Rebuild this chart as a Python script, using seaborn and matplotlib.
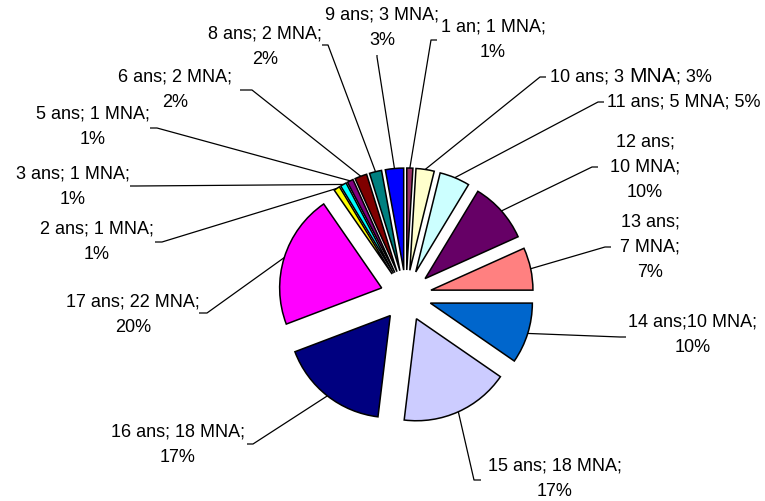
import matplotlib
matplotlib.use("Agg")
import matplotlib.pyplot as plt
import seaborn as sns
import numpy as np

# ---------------- data ----------------
ages = ["1 an", "10 ans", "11 ans", "12 ans", "13 ans", "14 ans", "15 ans",
        "16 ans", "17 ans", "2 ans", "3 ans", "5 ans", "6 ans", "8 ans", "9 ans"]
mna = [1, 3, 5, 10, 7, 10, 18, 18, 22, 1, 1, 1, 2, 2, 3]
pcts = ["1%", "3%", "5%", "10%", "7%", "10%", "17%", "17%", "20%",
        "1%", "1%", "1%", "2%", "2%", "3%"]
slice_colors = ["#993366", "#FFFFCC", "#CCFFFF", "#660066", "#FF8080", "#0066CC",
                "#CCCCFF", "#000080", "#FF00FF", "#FFFF00", "#00FFFF", "#800080",
                "#800000", "#008080", "#0000FF"]

# ---------------- layout (pixels of the 765x501 canvas) ----------------
W, H = 765, 501
CX, CY, R = 406.0, 295.5, 102.0   # pie centre / radius in pixels
EXPLODE = 0.25

# separators between "age", "n MNA" and "pct" for each label
seps = [("; ", ";\n"), ("; ", "; "), ("; ", "; "), (";\n", ";\n"), (";\n", ";\n"),
        (";", ";\n"), ("; ", ";\n"), ("; ", ";\n"), ("; ", ";\n"), ("; ", ";\n"),
        ("; ", ";\n"), ("; ", ";\n"), ("; ", ";\n"), ("; ", ";\n"), ("; ", ";\n")]

# text anchor (px), horizontal alignment
text_pos = [(493, 40, "center"), (550, 77, "left"), (607, 102, "left"),
            (645, 167, "center"), (650, 247, "center"), (693, 335, "center"),
            (555, 479, "center"), (178, 445, "center"), (133, 315, "center"),
            (97, 242, "center"), (73, 187, "center"), (93, 127, "center"),
            (175, 90, "center"), (265, 47, "center"), (382, 28, "center")]
# short stub at the label end of each leader line: (x0, y0) -> (x1, y1)
stubs = [(437, 40, 431, 40), (546, 77, 540, 77), (604, 102, 598, 102),
         (598, 167, 592, 167), (611, 247, 605, 247), (626, 337, 620, 337),
         (481, 480, 474, 480), (247, 444, 253, 444), (199, 313, 207, 313),
         (155, 242, 162, 242), (130, 186, 136, 186), (150, 128, 157, 128),
         (240, 90, 252, 90), (322, 45, 328, 45), (377, 55, 377, 57)]


def px(x, y):
    return (x - CX) / R, (CY - y) / R


sns.set_style("white")
plt.rcParams["font.family"] = ["Liberation Sans", "DejaVu Sans"]
plt.rcParams["text.color"] = "black"

fig = plt.figure(figsize=(W / 100, H / 100), dpi=100)
ax = fig.add_axes([0, 0, 1, 1])

pal = sns.color_palette(slice_colors)
wedges, _ = ax.pie(mna, colors=pal, startangle=90, counterclock=False,
                   explode=[EXPLODE] * len(mna), radius=1.0,
                   wedgeprops=dict(edgecolor="black", linewidth=1.1))

ax.set_xlim(-CX / R, (W - CX) / R)
ax.set_ylim((CY - H) / R, CY / R)
ax.set_aspect("equal")
ax.axis("off")

FS = 13
LS = 1.62
for i, w in enumerate(wedges):
    # leader line: wedge arc midpoint -> stub -> label
    ang = np.deg2rad((w.theta1 + w.theta2) / 2)
    cxw, cyw = w.center
    ex, ey = cxw + w.r * np.cos(ang), cyw + w.r * np.sin(ang)
    x0, y0, x1, y1 = stubs[i]
    a0 = px(x0, y0)
    a1 = px(x1, y1)
    ax.plot([a0[0], a1[0], ex], [a0[1], a1[1], ey], color="black", lw=0.9,
            solid_capstyle="butt", zorder=1)

    tx, ty, ha = text_pos[i]
    p = px(tx, ty)
    s1, s2 = seps[i]
    if ages[i] == "10 ans":
        t1 = ax.text(p[0], p[1], f"{ages[i]}{s1}{mna[i]}", ha="left", va="center",
                     fontsize=FS, color="black")
        t2 = ax.annotate("MNA", xy=(1, 0), xycoords=t1, xytext=(0.278 * FS, 0),
                         textcoords="offset points", ha="left", va="bottom",
                         fontsize=FS + 2, color="black")
        ax.annotate(f"; {pcts[i]}", xy=(1, 0), xycoords=t2, ha="left",
                    va="bottom", fontsize=FS, color="black")
    else:
        label = f"{ages[i]}{s1}{mna[i]} MNA{s2}{pcts[i]}"
        ax.text(p[0], p[1], label, ha=ha, va="center", fontsize=FS,
                multialignment="center", linespacing=LS, color="black")

fig.savefig("out.png", dpi=100, facecolor="white")
